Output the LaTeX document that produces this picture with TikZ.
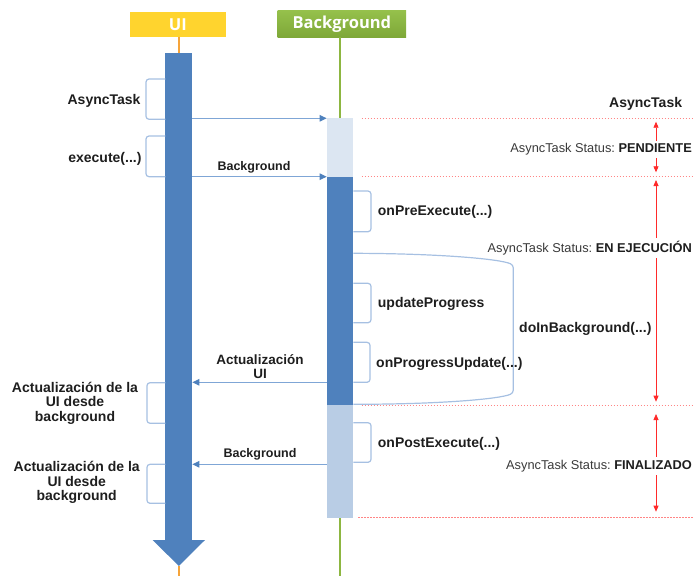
\documentclass[tikz,border=0pt]{standalone}
\usepackage{fontspec}
\setmainfont{Liberation Sans}
\newfontfamily\headfont{Open Sans}
\usetikzlibrary{arrows.meta}
\frenchspacing

\definecolor{barblue}{HTML}{4F81BD}
\definecolor{barpale}{HTML}{DCE6F2}
\definecolor{barlight}{HTML}{B9CDE5}
\definecolor{msgline}{HTML}{7FA6D6}
\definecolor{braceline}{HTML}{A6C0E2}
\definecolor{uiyellow}{HTML}{FFD42E}
\definecolor{uiorange}{HTML}{F6A43A}
\definecolor{bggreentop}{HTML}{95C04B}
\definecolor{bggreenbot}{HTML}{7EA838}
\definecolor{bgline}{HTML}{8DB641}
\definecolor{statusred}{HTML}{FF2A2A}
\definecolor{gridred}{HTML}{FF8585}
\definecolor{labeltext}{HTML}{1E1E1E}
\definecolor{stattext}{HTML}{3A3A3A}

\begin{document}
\begin{tikzpicture}[x=1pt,y=-1pt,
  bar/.style={draw=none, inner sep=0pt, outer sep=0pt, minimum width=26.6pt, anchor=north west},
  header/.style={draw=none, inner sep=0pt, outer sep=0pt, text=white,
    font=\headfont\bfseries\fontsize{16.5}{18}\selectfont},
  msg/.style={draw=msgline, line width=1.1pt,
    -{Triangle[length=7pt,width=6.5pt,fill=barblue,color=barblue]}},
  brace/.style={draw=braceline, line width=1.2pt, rounded corners=3pt},
  lbl/.style={inner sep=0pt, text=labeltext, font=\bfseries\fontsize{14}{14.6}\selectfont},
  msglbl/.style={inner sep=0pt, text=labeltext, font=\bfseries\fontsize{12.5}{13.7}\selectfont, align=center},
  stat/.style={fill=white, inner xsep=1pt, inner ysep=3pt, text=stattext,
    font=\fontsize{12.8}{14}\selectfont},
  grid/.style={draw=gridred, line width=0.9pt, dash pattern=on 1.6pt off 1.4pt},
  status/.style={draw=statusred, line width=0.8pt,
    {Triangle[length=6pt,width=5pt]}-{Triangle[length=6pt,width=5pt]}},
]
\useasboundingbox (0,0) rectangle (693,576);

% lifeline heads
\node[header, fill=uiyellow, minimum width=95.7pt, minimum height=25.6pt]
  (hdrui) at (177.85,24.5) {UI};
\node[header, top color=bggreentop, bottom color=bggreenbot,
  minimum width=128.3pt, minimum height=26.6pt]
  (hdrbg) at (341.85,24) {Background};

% activation bars
\node[bar, fill=barblue, minimum width=27pt, minimum height=487pt] (uibar) at (165.3,53) {};
\node[bar, fill=barpale, minimum height=58.4pt] (bgpend) at (326.7,118.3) {};
\node[bar, fill=barblue, minimum height=227.8pt] (bgrun) at (326.7,176.7) {};
\node[bar, fill=barlight, minimum height=113.5pt] (bgfin) at (326.7,404.5) {};

% lifelines
\coordinate (uitip) at ([yshift=-26pt]uibar.south);
\coordinate (uiend) at (uitip |- 0,576);
\coordinate (bgend) at (bgfin.south |- 0,576);
\draw[uiorange, line width=2pt] (uibar.north |- hdrui.south) -- (uibar.north);
\draw[uiorange, line width=2pt] (uitip) -- (uiend);
\draw[bgline, line width=2.5pt] (bgpend.north |- hdrbg.south) -- (bgpend.north);
\draw[bgline, line width=2.5pt] (bgfin.south) -- (bgend);

% arrow head closing the UI bar
\fill[barblue] ([xshift=-12.6pt]uibar.south west) -- ([xshift=12.7pt]uibar.south east)
  -- (uitip) -- cycle;

% messages
\coordinate (updy) at (bgrun.west |- 0,382.3);
\coordinate (finy) at (bgfin.west |- 0,464.3);
\draw[msg] (uibar.east |- bgpend.north) -- (bgpend.north west);
\draw[msg] (uibar.east |- bgrun.north) -- (bgrun.north west);
\draw[msg] (updy) -- (uibar.east |- updy);
\draw[msg] (finy) -- (uibar.east |- finy);

\node[msglbl, anchor=base] (lblbg1) at (254,170.5) {Background};
\node[msglbl, anchor=center, font=\bfseries\fontsize{13.5}{13.7}\selectfont]
  (lblupd) at (260,366.3) {Actualización\\UI};
\node[msglbl, anchor=base] (lblbg2) at (260,457.2) {Background};

% red state bands
\draw[grid] (361.7,118.3) -- (693,118.3);
\draw[grid] (361.7,176.7) -- (693,176.7);
\draw[grid] (361.7,405.7) -- (693,405.7);
\draw[grid] (358,517.3) -- (693,517.3);

\draw[status] (656,121.7) -- (656,172.3);
\draw[status] (656,180) -- (656,401.7);
\draw[status] (656,414) -- (656,511.7);

\node[lbl, anchor=base east] (lblasync) at (682.3,107.7) {AsyncTask};
\node[stat, anchor=base east] (stpend) at (693,152.8)
  {AsyncTask Status: {\bfseries\color{labeltext}PENDIENTE}};
\node[stat, anchor=base east] (strun) at (693,252.8)
  {AsyncTask Status: {\bfseries\color{labeltext}EN EJECUCIÓN}};
\node[stat, anchor=base east] (stfin) at (693,469.5)
  {AsyncTask Status: {\bfseries\color{labeltext}FINALIZADO}};

% UI side brackets
\draw[brace] (165.3,79) -- (146,79) -- (146,119.3) -- (165.3,119.3);
\draw[brace] (165.3,136) -- (146,136) -- (146,176.7) -- (165.3,176.7);
\draw[brace] (165.3,382.7) -- (147,382.7) -- (147,423.3) -- (165.3,423.3);
\draw[brace] (165.3,464.3) -- (147,464.3) -- (147,503.3) -- (165.3,503.3);

\node[lbl, anchor=base east] (lblnew) at (140.7,104) {AsyncTask};
\node[lbl, anchor=base east] (lblexec) at (141.7,162.7) {execute(...)};
\node[lbl, anchor=center, align=center] (lblui1) at (75,403.3)
  {Actualización de la\\UI desde\\background};
\node[lbl, anchor=center, align=center] (lblui2) at (76.7,482.5)
  {Actualización de la\\UI desde\\background};

% Background side brackets
\draw[brace] (353.3,191) -- (371,191) -- (371,231.7) -- (353.3,231.7);
\draw[brace] (353.3,283.3) -- (371,283.3) -- (371,322.7) -- (353.3,322.7);
\draw[brace] (353.3,342.3) -- (370,342.3) -- (370,382.3) -- (353.3,382.3);
\draw[brace] (353.3,422.7) -- (371,422.7) -- (371,462.3) -- (353.3,462.3);
\draw[brace] (353.3,253.3) .. controls (440,253.5) and (500,259) .. (513.3,265)
  -- (513.3,393) .. controls (500,399) and (440,404.3) .. (353.3,404.3);

\node[lbl, anchor=base west] (lblpre) at (377.7,215.7) {onPreExecute(...)};
\node[lbl, anchor=base west] (lblupdp) at (377.7,307.5) {updateProgress};
\node[lbl, anchor=base west] (lbldoin) at (519,332.5) {doInBackground(...)};
\node[lbl, anchor=base west] (lblonp) at (376,367) {onProgressUpdate(...)};
\node[lbl, anchor=base west] (lblpost) at (377.7,447.7) {onPostExecute(...)};
\end{tikzpicture}
\end{document}
